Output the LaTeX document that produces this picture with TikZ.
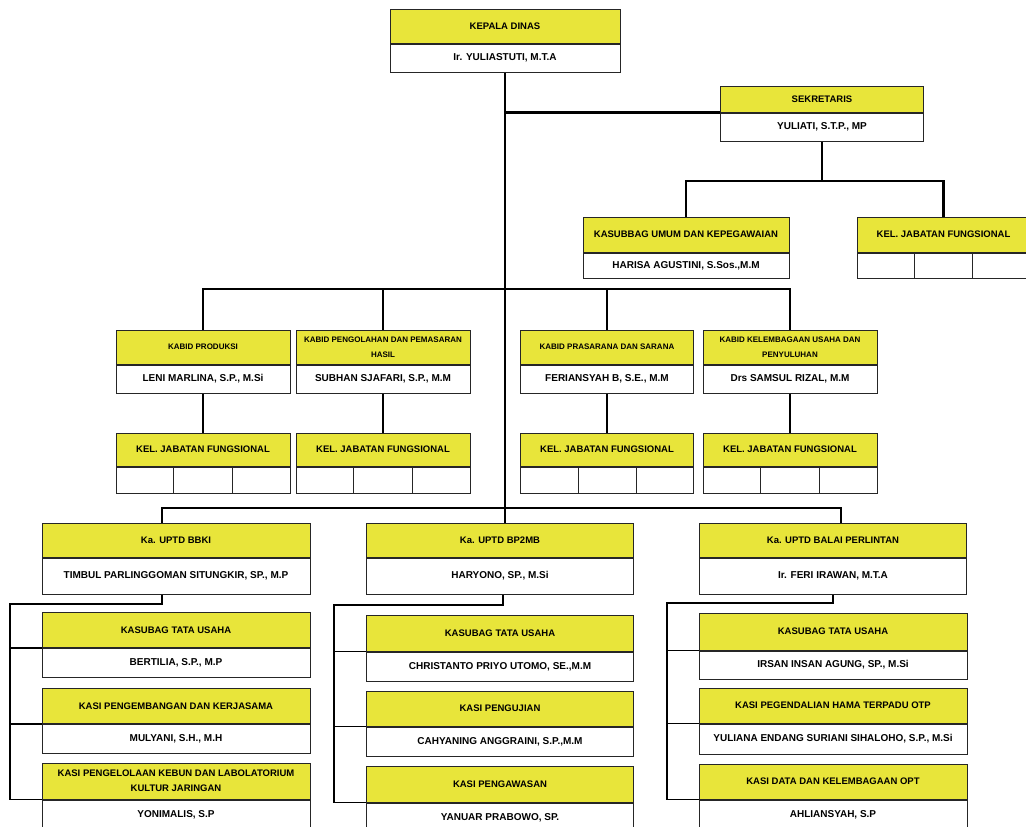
\documentclass[tikz,border=0pt]{standalone}
\usepackage{fontspec}
\setmainfont{Liberation Sans}
\usetikzlibrary{positioning,calc}
\definecolor{orgyellow}{RGB}{232,229,58}
\tikzset{
  titlebox/.style={draw=black!85, line width=1pt, fill=orgyellow, minimum height=34, inner sep=1pt, align=center, font=\bfseries\fontsize{9.5}{15}\selectfont},
  namebox/.style={draw=black!85, line width=1pt, fill=white, minimum height=28, inner sep=1pt, align=center, font=\bfseries\fontsize{10}{12}\selectfont},
  smalltitle/.style={font=\bfseries\fontsize{8}{15}\selectfont},
  bar/.style={line width=2.6pt},
  link/.style={line width=1.5pt},
  trunk/.style={line width=2pt},
  cell/.style={line width=1pt, draw=black!85},
}

\begin{document}
\begin{tikzpicture}[x=1pt,y=-1pt]
\useasboundingbox (0,0) rectangle (1026,827);
\clip (0,0) rectangle (1026,827);

\node[titlebox, minimum width=230] (kadis) at (505,26) {KEPALA DINAS};
\node[namebox, minimum width=230, below=0pt of kadis] (kadisN) {Ir. YULIASTUTI, M.T.A};

\node[titlebox, minimum width=203, minimum height=26] (sekr) at (822,99) {SEKRETARIS};
\node[namebox, minimum width=203, below=0pt of sekr] (sekrN) {YULIATI, S.T.P., MP};

\node[titlebox, minimum width=206, minimum height=35] (umum) at (686,234.5) {KASUBBAG UMUM DAN KEPEGAWAIAN};
\node[namebox, minimum width=206, minimum height=25, below=0pt of umum] (umumN) {HARISA AGUSTINI, S.Sos.,M.M};

\node[titlebox, minimum width=173, minimum height=35] (jfsek) at (943.5,234.5) {KEL. JABATAN FUNGSIONAL};
\node[namebox, minimum width=173, minimum height=25, below=0pt of jfsek] (jfsekC) {};

\node[titlebox, smalltitle, minimum width=174] (kprod) at (203,347) {KABID PRODUKSI};
\node[namebox, minimum width=174, below=0pt of kprod] (kprodN) {LENI MARLINA, S.P., M.Si};
\node[titlebox, smalltitle, minimum width=174] (kolah) at (383,347) {KABID PENGOLAHAN DAN PEMASARAN\\HASIL};
\node[namebox, minimum width=174, below=0pt of kolah] (kolahN) {SUBHAN SJAFARI, S.P., M.M};
\node[titlebox, smalltitle, minimum width=173] (kpras) at (607,347) {KABID PRASARANA DAN SARANA};
\node[namebox, minimum width=173, below=0pt of kpras] (kprasN) {FERIANSYAH B, S.E., M.M};
\node[titlebox, smalltitle, minimum width=174] (klemb) at (790,347) {KABID KELEMBAGAAN USAHA DAN\\PENYULUHAN};
\node[namebox, minimum width=174, below=0pt of klemb] (klembN) {Drs SAMSUL RIZAL, M.M};

\node[titlebox, minimum width=174, minimum height=33] (jf1) at (203,449.5) {KEL. JABATAN FUNGSIONAL};
\node[namebox, minimum width=174, minimum height=26, below=0pt of jf1] (jf1C) {};
\node[titlebox, minimum width=174, minimum height=33] (jf2) at (383,449.5) {KEL. JABATAN FUNGSIONAL};
\node[namebox, minimum width=174, minimum height=26, below=0pt of jf2] (jf2C) {};
\node[titlebox, minimum width=173, minimum height=33] (jf3) at (607,449.5) {KEL. JABATAN FUNGSIONAL};
\node[namebox, minimum width=173, minimum height=26, below=0pt of jf3] (jf3C) {};
\node[titlebox, minimum width=174, minimum height=33] (jf4) at (790,449.5) {KEL. JABATAN FUNGSIONAL};
\node[namebox, minimum width=174, minimum height=26, below=0pt of jf4] (jf4C) {};

\node[titlebox, minimum width=268] (bbki) at (176,540) {Ka. UPTD BBKI};
\node[namebox, minimum width=268, minimum height=36, below=0pt of bbki] (bbkiN) {TIMBUL PARLINGGOMAN SITUNGKIR, SP., M.P};
\node[titlebox, minimum width=267] (bp2mb) at (500,540) {Ka. UPTD BP2MB};
\node[namebox, minimum width=267, minimum height=36, below=0pt of bp2mb] (bp2mbN) {HARYONO, SP., M.Si};
\node[titlebox, minimum width=267] (balai) at (833,540) {Ka. UPTD BALAI PERLINTAN};
\node[namebox, minimum width=267, minimum height=36, below=0pt of balai] (balaiN) {Ir. FERI IRAWAN, M.T.A};

\node[titlebox, minimum width=268, minimum height=35] (bbki1) at (176,630) {KASUBAG TATA USAHA};
\node[namebox, minimum width=268, minimum height=29, below=0pt of bbki1] (bbki1N) {BERTILIA, S.P., M.P};
\node[titlebox, minimum width=268, minimum height=35] (bbki2) at (176,706) {KASI PENGEMBANGAN DAN KERJASAMA};
\node[namebox, minimum width=268, minimum height=29, below=0pt of bbki2] (bbki2N) {MULYANI, S.H., M.H};
\node[titlebox, minimum width=268, minimum height=36] (bbki3) at (176,781) {KASI PENGELOLAAN KEBUN DAN LABOLATORIUM\\KULTUR JARINGAN};
\node[namebox, minimum width=268, minimum height=29, below=0pt of bbki3] (bbki3N) {YONIMALIS, S.P};

\node[titlebox, minimum width=267, minimum height=36] (bp1) at (500,633) {KASUBAG TATA USAHA};
\node[namebox, minimum width=267, minimum height=29, below=0pt of bp1] (bp1N) {CHRISTANTO PRIYO UTOMO, SE.,M.M};
\node[titlebox, minimum width=267, minimum height=35] (bp2) at (500,708.5) {KASI PENGUJIAN};
\node[namebox, minimum width=267, minimum height=29, below=0pt of bp2] (bp2N) {CAHYANING ANGGRAINI, S.P.,M.M};
\node[titlebox, minimum width=267, minimum height=36] (bp3) at (500,784) {KASI PENGAWASAN};
\node[namebox, minimum width=267, minimum height=29, below=0pt of bp3] (bp3N) {YANUAR PRABOWO, SP.};

\node[titlebox, minimum width=268, minimum height=37] (bal1) at (833,631.5) {KASUBAG TATA USAHA};
\node[namebox, minimum width=268, minimum height=28, below=0pt of bal1] (bal1N) {IRSAN INSAN AGUNG, SP., M.Si};
\node[titlebox, minimum width=268, minimum height=35] (bal2) at (833,705.5) {KASI PEGENDALIAN HAMA TERPADU OTP};
\node[namebox, minimum width=268, minimum height=30, below=0pt of bal2] (bal2N) {YULIANA ENDANG SURIANI SIHALOHO, S.P., M.Si};
\node[titlebox, minimum width=268, minimum height=35] (bal3) at (833,781.5) {KASI DATA DAN KELEMBAGAAN OPT};
\node[namebox, minimum width=268, minimum height=29, below=0pt of bal3] (bal3N) {AHLIANSYAH, S.P};

\foreach \j in {jfsekC,jf1C,jf2C,jf3C,jf4C} {
  \draw[cell] ($(\j.north west)!1/3!(\j.north east)$) -- ($(\j.south west)!1/3!(\j.south east)$);
  \draw[cell] ($(\j.north west)!2/3!(\j.north east)$) -- ($(\j.south west)!2/3!(\j.south east)$);
}

\coordinate (sjoin) at (822,181);
\coordinate (kjoin) at (505,289);
\coordinate (ujoin) at (505,508);
\coordinate (railL) at (10,604);
\coordinate (railM) at (334,605);
\coordinate (railR) at (667,603);

\draw[trunk] (kadisN.south) -- (kadisN.south |- bp2mb.north);
\draw[bar] (kadisN.south |- sekrN.north west) -- (sekrN.north west);
\draw[bar] (sekrN.south) -- (sjoin);
\draw[bar] (umum.north) |- (sjoin) -| (jfsek.north);

\draw[bar] (kprod.north) |- (kjoin) -| (klemb.north);
\draw[link] (kolah.north) -- (kolah.north |- kjoin);
\draw[link] (kpras.north) -- (kpras.north |- kjoin);
\draw[link] (kprodN) -- (jf1);
\draw[link] (kolahN) -- (jf2);
\draw[link] (kprasN) -- (jf3);
\draw[link] (klembN) -- (jf4);

\draw[bar] ([xshift=-14pt]bbki.north) |- (ujoin) -| ([xshift=8pt]balai.north);

\draw[link] ([xshift=-14pt]bbkiN.south) |- (railL) |- (bbki3N.north west);
\draw[link] (railL) |- (bbki1N.north west);
\draw[link] (railL) |- (bbki2N.north west);
\draw[link] ([xshift=3pt]bp2mbN.south) |- (railM) |- (bp3N.north west);
\draw[link] (railM) |- (bp1N.north west);
\draw[link] (railM) |- (bp2N.north west);
\draw[link] (balaiN.south) |- (railR) |- (bal3N.north west);
\draw[link] (railR) |- (bal1N.north west);
\draw[link] (railR) |- (bal2N.north west);
\end{tikzpicture}
\end{document}
